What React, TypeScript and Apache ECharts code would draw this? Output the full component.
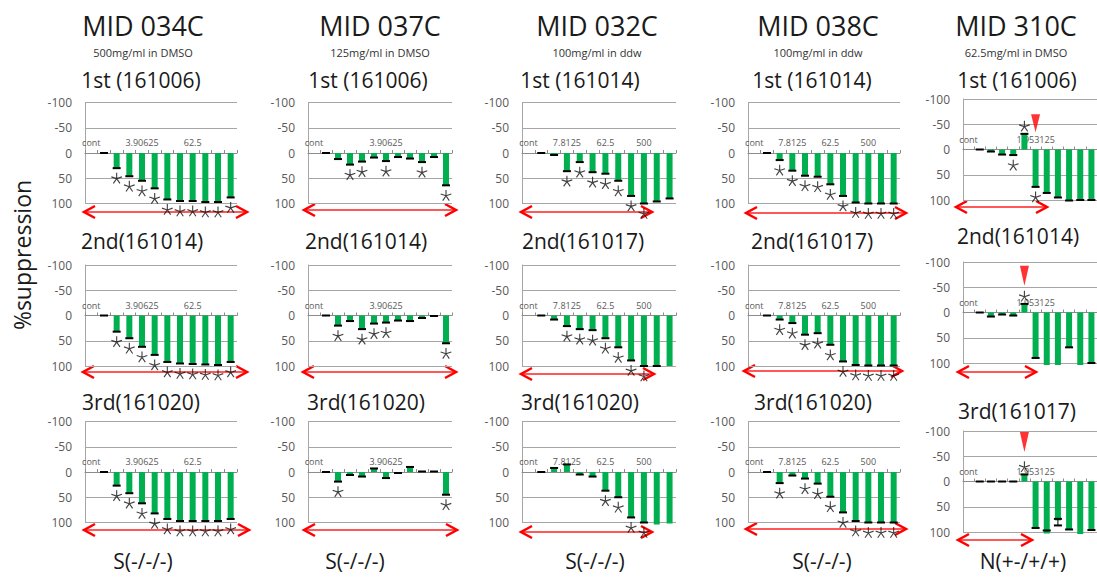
import React, { useEffect, useRef } from 'react';
import * as echarts from 'echarts';

// ---------- texts ----------
const compounds = ['MID 034C', 'MID 037C', 'MID 032C', 'MID 038C', 'MID 310C'];
const stockLabels = ['500mg/ml in DMSO', '125mg/ml in DMSO', '100mg/ml in ddw', '100mg/ml in ddw', '62.5mg/ml in DMSO'];
const runLabels = [
  ['1st (161006)', '2nd(161014)', '3rd(161020)'],
  ['1st (161006)', '2nd(161014)', '3rd(161020)'],
  ['1st (161014)', '2nd(161017)', '3rd(161020)'],
  ['1st (161014)', '2nd(161017)', '3rd(161020)'],
  ['1st (161006)', '2nd(161014)', '3rd(161017)'],
];
const verdicts = ['S(-/-/-)', 'S(-/-/-)', 'S(-/-/-)', 'S(-/-/-)', 'N(+-/+/+)'];
const yTitle = '%suppression';

// ---------- categories ----------
const mid034cCats = ['cont', '0.48828125', '0.9765625', '1.953125', '3.90625', '7.8125', '15.625', '31.25', '62.5', '125', '250', '500'];
const mid037cCats = ['cont', '0.1220703125', '0.244140625', '0.48828125', '0.9765625', '1.953125', '3.90625', '7.8125', '15.625', '31.25', '62.5', '125'];
const mid032cCats = ['cont', '1.953125', '3.90625', '7.8125', '15.625', '31.25', '62.5', '125', '250', '500', '1000', '2000'];
const mid038cCats = ['cont', '1.953125', '3.90625', '7.8125', '15.625', '31.25', '62.5', '125', '250', '500', '1000', '2000'];
const mid310cCats = ['cont', '0.06103515625', '0.1220703125', '0.244140625', '0.48828125', '0.9765625', '1.953125', '3.90625', '7.8125', '15.625', '31.25', '62.5'];

// ---------- values (% suppression, rows = 1st, 2nd, 3rd) ----------
const mid034cValues = [
  [null, 0, 30, 46, 55, 70, 92, 95, 95, 97, 97, 88],
  [null, 0, 32, 45, 62, 78, 92, 95, 96, 97, 98, 92],
  [null, 0, 27, 42, 62, 82, 93, 97, 97, 97, 97, 93],
];
const mid037cValues = [
  [null, 0, 12, 23, 17, 9, 16, 8, 11, 18, 8, 64],
  [null, 0, 20, 11, 27, 16, 14, 10, 11, 5, 1, 55],
  [null, 0, 19, 6, 9, -7, 12, 2, -10, -1, -1, 45],
];
const mid032cValues = [
  [null, 0, 4, 36, 18, 38, 41, 55, 85, 100, 96, 90],
  [null, 0, 8, 21, 27, 29, 45, 63, 89, 100, 100, 100],
  [null, 0, -8, -15, 5, 9, 37, 50, 90, 100, 104, 102],
];
const mid038cValues = [
  [null, 0, 14, 35, 45, 47, 62, 85, 98, 100, 100, 100],
  [null, 0, 8, 15, 38, 35, 58, 91, 98, 99, 99, 99],
  [null, 0, 22, 7, 13, 23, 49, 80, 97, 100, 100, 100],
];
const mid310cValues = [
  [null, 0, 4, 10, 11, -31, 74, 86, 95, 101, 100, 100],
  [null, 0, 8, 4, 6, -17, 90, 104, 104, 69, 104, 100],
  [null, 0, 0, 0, 0, -14, 92, 103, 77, 95, 104, 96],
];

// ---------- error-bar caps (null = none visible) ----------
const mid034cCaps = mid034cValues;
const mid037cCaps = mid037cValues;
const mid032cCaps = [
  [null, 0, 4, 36, 18, 38, 41, 55, 85, 100, 96, 90],
  [null, 0, 8, 21, 27, 29, 45, 63, 89, 100, 100, null],
  [null, 0, -8, -15, 5, 9, 37, 50, 90, 100, null, null],
];
const mid038cCaps = mid038cValues;
const mid310cCaps = [
  [null, 0, 4, 10, 11, -31, 74, 86, 95, 101, 100, 100],
  [null, 0, 8, 4, 6, -17, 90, null, null, 69, null, 100],
  [null, 0, 0, 0, 0, -14, 92, 97, null, 95, null, 96],
];
// [category index, low, high]
const mid310cErrorBars = [[], [], [[8, 74, 87]]];

// ---------- significance stars (1 = below bar, -1 = above) ----------
const mid034cStars = [
  [0, 0, 1, 1, 1, 1, 1, 1, 1, 1, 1, 1],
  [0, 0, 1, 1, 1, 1, 1, 1, 1, 1, 1, 1],
  [0, 0, 1, 1, 1, 1, 1, 1, 1, 1, 1, 1],
];
const mid037cStars = [
  [0, 0, 0, 1, 1, 0, 1, 0, 0, 1, 0, 1],
  [0, 0, 1, 0, 1, 1, 1, 0, 0, 0, 0, 1],
  [0, 0, 1, 0, 0, 0, 0, 0, 0, 0, 0, 1],
];
const mid032cStars = [
  [0, 0, 0, 1, 1, 1, 1, 1, 1, 1, 0, 0],
  [0, 0, 0, 1, 1, 1, 1, 1, 1, 1, 0, 0],
  [0, 0, 0, 0, 0, 0, 1, 1, 1, 1, 0, 0],
];
const mid038cStars = [
  [0, 0, 1, 1, 1, 1, 1, 1, 1, 1, 1, 1],
  [0, 0, 1, 1, 1, 1, 1, 1, 1, 1, 1, 1],
  [0, 0, 1, 0, 1, 1, 1, 1, 1, 1, 1, 1],
];
const mid310cStars = [
  [0, 0, 0, 0, 1, -1, 1, 0, 0, 0, 0, 0],
  [0, 0, 0, 0, 0, -1, 0, 0, 0, 0, 0, 0],
  [0, 0, 0, 0, 0, -1, 0, 0, 0, 0, 0, 0],
];

// red downward markers for MID 310C: [category index, value at centre]
const mid310cMarkers = [[6, -52], [5, -73], [5, -78]];

// label interval on each column's category axis
const labelIntervals = [3, 5, 2, 2, 5];

// ---------- layout (pixels) ----------
const colLeft = [85, 308, 522, 748, 963];
const colWidth = [152, 144, 154, 152, 142];
const rowTops = [
  [102.5, 265, 421.5],
  [102.5, 265, 421.5],
  [102.5, 265, 421.5],
  [102.5, 265, 421.5],
  [99, 262, 431],
];
const plotHeight = 101;
const titleX = [143, 380, 597, 818, 1016];
const runX = [
  [141, 142, 141],
  [368, 366, 366],
  [580, 583, 580],
  [812, 812, 813],
  [1017, 1018, 1017],
];
const runY = [[80, 241, 402], [80, 241, 402], [80, 241, 402], [80, 241, 402], [80, 236, 411]];
const verdictX = [143, 355, 595, 822, 1023];
// red range arrows: [x1, x2, y]
const arrowSpans = [
  [[83, 248, 212], [82, 248, 372], [83, 250, 530]],
  [[303, 457, 210], [302, 457, 372], [303, 458, 530]],
  [[520, 653, 212], [520, 655, 374], [520, 653, 532]],
  [[745, 907, 213], [743, 903, 371], [745, 907, 529]],
  [[955, 1048, 207], [957, 1037, 372], [957, 1033, 540]],
];

const FONT = '"Open Sans", "Noto Sans", sans-serif';
const GREEN = '#00b050';

// five-armed asterisk made of thin arms
function asteriskPath(): string {
  const parts: string[] = [];
  const w = 5;
  for (let k = 0; k < 5; k++) {
    const a = (-90 + 72 * k) * Math.PI / 180;
    const dx = Math.cos(a), dy = Math.sin(a);
    const px = -dy * w, py = dx * w;
    const pts = [
      [50 + px, 50 + py],
      [50 + dx * 50 + px, 50 + dy * 50 + py],
      [50 + dx * 50 - px, 50 + dy * 50 - py],
      [50 - px, 50 - py],
    ];
    parts.push('M' + pts.map((p) => `${p[0].toFixed(2)} ${p[1].toFixed(2)}`).join(' L') + ' Z');
  }
  return 'path://' + parts.join(' ');
}

function buildOption() {
  const cats = [mid034cCats, mid037cCats, mid032cCats, mid038cCats, mid310cCats];
  const values = [mid034cValues, mid037cValues, mid032cValues, mid038cValues, mid310cValues];
  const caps = [mid034cCaps, mid037cCaps, mid032cCaps, mid038cCaps, mid310cCaps];
  const stars = [mid034cStars, mid037cStars, mid032cStars, mid038cStars, mid310cStars];
  const star = asteriskPath();

  const grid: any[] = [];
  const xAxis: any[] = [];
  const yAxis: any[] = [];
  const series: any[] = [];
  const graphic: any[] = [];

  const text = (t: string, x: number, y: number, size: number, color = '#1a1a1a', rotation = 0) => ({
    type: 'text',
    x, y, rotation,
    silent: true,
    style: {
      text: t, fill: color, fontSize: size, fontFamily: FONT,
      align: 'center', verticalAlign: 'middle',
      textAlign: 'center', textVerticalAlign: 'middle',
    },
  });

  for (let c = 0; c < 5; c++) {
    graphic.push(text(compounds[c], titleX[c], 25, 27));
    graphic.push(text(stockLabels[c], titleX[c], 52, 11, '#333'));
    graphic.push(text(verdicts[c], verdictX[c], 561, 21));
    for (let r = 0; r < 3; r++) {
      const idx = c * 3 + r;
      graphic.push(text(runLabels[c][r], runX[c][r], runY[c][r], 21));
      grid.push({ left: colLeft[c], top: rowTops[c][r], width: colWidth[c], height: plotHeight });
      // the axis sits on the 0 line, i.e. half way down the symmetric -100..100 range
      xAxis.push({
        type: 'category', gridIndex: idx, data: cats[c], position: 'top', offset: -plotHeight / 2,
        axisLine: { onZero: false, lineStyle: { color: '#8c8c8c', width: 1 } },
        axisTick: { show: true, inside: false, length: 3, interval: 0, lineStyle: { color: '#8c8c8c' } },
        axisLabel: { inside: false, interval: labelIntervals[c], fontSize: 9, color: '#595959', margin: 6, fontFamily: FONT },
        splitLine: { show: false },
      });
      yAxis.push({
        type: 'value', gridIndex: idx, inverse: true, min: -100, max: 100, interval: 50,
        axisLine: { show: true, lineStyle: { color: '#a6a6a6' } },
        axisTick: { show: false },
        axisLabel: { fontSize: 12, color: '#595959', margin: 13, fontFamily: FONT },
        splitLine: { show: true, lineStyle: { color: '#a6a6a6', width: 1 } },
      });
      const vals = values[c][r];
      series.push({
        type: 'bar', xAxisIndex: idx, yAxisIndex: idx, data: vals,
        barWidth: 6, clip: false, silent: true,
        itemStyle: { color: GREEN },
      });
      const capData: number[][] = [];
      caps[c][r].forEach((v: any, i: number) => { if (v !== null && v !== undefined) capData.push([i, v, v]); });
      if (c === 4) mid310cErrorBars[r].forEach((e) => capData.push(e));
      series.push({
        type: 'custom', xAxisIndex: idx, yAxisIndex: idx, data: capData,
        encode: { x: 0, y: [1, 2] }, clip: false, silent: true, z: 5,
        renderItem: (params: any, api: any) => {
          const i = api.value(0), lo = api.value(1), hi = api.value(2);
          const a = api.coord([i, lo]);
          const b = api.coord([i, hi]);
          const h = 4;
          const children: any[] = [
            { type: 'line', shape: { x1: a[0] - h, y1: a[1], x2: a[0] + h, y2: a[1] }, style: { stroke: '#000', lineWidth: 2 } },
          ];
          if (lo !== hi) {
            children.push({ type: 'line', shape: { x1: b[0] - h, y1: b[1], x2: b[0] + h, y2: b[1] }, style: { stroke: '#000', lineWidth: 2 } });
            children.push({ type: 'line', shape: { x1: a[0], y1: a[1], x2: b[0], y2: b[1] }, style: { stroke: '#000', lineWidth: 1 } });
          }
          return { type: 'group', children };
        },
      });
      const starData: number[][] = [];
      stars[c][r].forEach((s: number, i: number) => {
        if (s) {
          const base = (vals[i] as number) ?? 0;
          starData.push([i, base + (s > 0 ? 20 : -15)]);
        }
      });
      series.push({
        type: 'scatter', xAxisIndex: idx, yAxisIndex: idx, data: starData,
        symbol: star, symbolSize: 11, clip: false, silent: true, z: 6,
        itemStyle: { color: '#111' },
      });
      if (c === 4) {
        series.push({
          type: 'scatter', xAxisIndex: idx, yAxisIndex: idx, data: [mid310cMarkers[r]],
          symbol: 'triangle', symbolRotate: 180, symbolSize: r === 0 ? [9, 18] : [9, 20],
          clip: false, silent: true, z: 7, itemStyle: { color: '#ff0000' },
        });
      }
      const [x1, x2, y] = arrowSpans[c][r];
      graphic.push({ type: 'line', silent: true, shape: { x1: x1 + 1, y1: y, x2: x2 - 1, y2: y }, style: { stroke: '#ff2020', lineWidth: 1.3 } });
      graphic.push({ type: 'polyline', silent: true, shape: { points: [[x1 + 12, y - 6], [x1 + 1, y], [x1 + 12, y + 6]] }, style: { stroke: '#ff0000', lineWidth: 2.5, fill: 'none' } });
      graphic.push({ type: 'polyline', silent: true, shape: { points: [[x2 - 12, y - 6], [x2 - 1, y], [x2 - 12, y + 6]] }, style: { stroke: '#ff0000', lineWidth: 2.5, fill: 'none' } });
    }
  }
  graphic.push(text(yTitle, 22, 255, 23, '#1a1a1a', Math.PI / 2));

  return {
    animation: false,
    backgroundColor: '#ffffff',
    grid, xAxis, yAxis, series, graphic,
  };
}

export default function App() {
  const ref = useRef<HTMLDivElement>(null);
  useEffect(() => {
    if (!ref.current) return;
    const chart = echarts.init(ref.current, undefined, { renderer: 'svg' });
    chart.setOption(buildOption() as any);
    return () => chart.dispose();
  }, []);
  return (
    <div
      ref={ref}
      style={{ position: 'fixed', left: 0, top: 0, width: 1097, height: 577, background: '#fff' }}
    />
  );
}
